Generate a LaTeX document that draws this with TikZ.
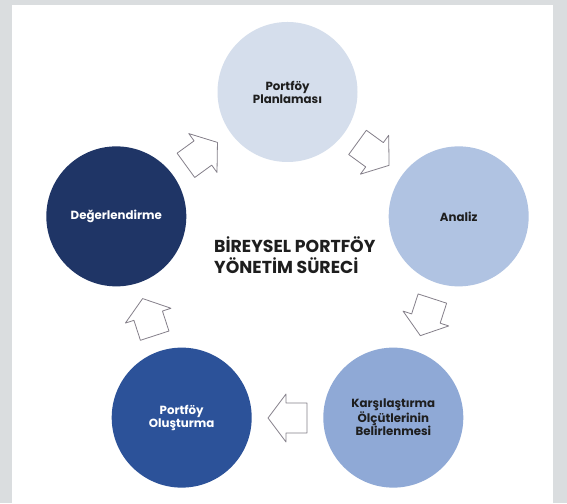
\documentclass[tikz,border=0pt]{standalone}
\usepackage{fontspec}
\setmainfont{Poppins}
\usetikzlibrary{calc}
\definecolor{bggray}{HTML}{DADDDF}
\definecolor{cplan}{HTML}{D5DEEC}
\definecolor{canaliz}{HTML}{B0C3E2}
\definecolor{ckars}{HTML}{8FA9D6}
\definecolor{colus}{HTML}{2C5299}
\definecolor{cdeger}{HTML}{1F3566}
\definecolor{txtdark}{HTML}{1E1E1E}
\definecolor{arrowgray}{HTML}{85808A}
\tikzset{
  stage/.style={circle, minimum size=140pt, inner sep=0pt, align=center,
    font=\bfseries\fontsize{11.8}{13}\selectfont},
  arrowline/.style={draw=arrowgray, fill=white, line width=0.8pt, line join=round},
  blockarrow/.pic={\path[arrowline] (-19.5,15) -- (1.5,15) -- (1.5,24) -- (19.5,0)
      -- (1.5,-24) -- (1.5,-15) -- (-19.5,-15) -- cycle;},
  titletext/.style={align=left, inner sep=0pt, text=txtdark,
    font=\bfseries\fontsize{17.3}{20.5}\selectfont}
}
\begin{document}
\begin{tikzpicture}[x=1pt,y=1pt]
\useasboundingbox (0,0) rectangle (567,503);
\fill[bggray] (0,0) rectangle (567,503);
\fill[white] (12,0) rectangle (553,498);
\coordinate (C) at (287.5,231);
\node[stage, fill=cplan, text=txtdark] (plan) at ($(C)+(90:180)$) {Portföy\\Planlaması};
\node[stage, fill=canaliz, text=txtdark] (analiz) at ($(C)+(18:180)$) {Analiz};
\node[stage, fill=ckars, text=txtdark] (kars) at ($(C)+(-54:180)$) {Karşılaştırma\\Ölçütlerinin\\Belirlenmesi};
\node[stage, fill=colus, text=white] (olus) at ($(C)+(-126:180)$) {Portföy\\Oluşturma};
\node[stage, fill=cdeger, text=white] (deger) at ($(C)+(162:180)$) {Değerlendirme};
\pic[rotate=-36] at ($(C)+(54:146)$) {blockarrow};
\pic[rotate=-108] at ($(C)+(-18:146)$) {blockarrow};
\pic[rotate=180] at ($(C)+(-90:146)$) {blockarrow};
\pic[rotate=108] at ($(C)+(198:146)$) {blockarrow};
\pic[rotate=36] at ($(C)+(126:146)$) {blockarrow};
\node[titletext, anchor=west] (title) at (214,248) {BİREYSEL PORTFÖY\\YÖNETİM SÜRECİ};
\end{tikzpicture}
\end{document}
